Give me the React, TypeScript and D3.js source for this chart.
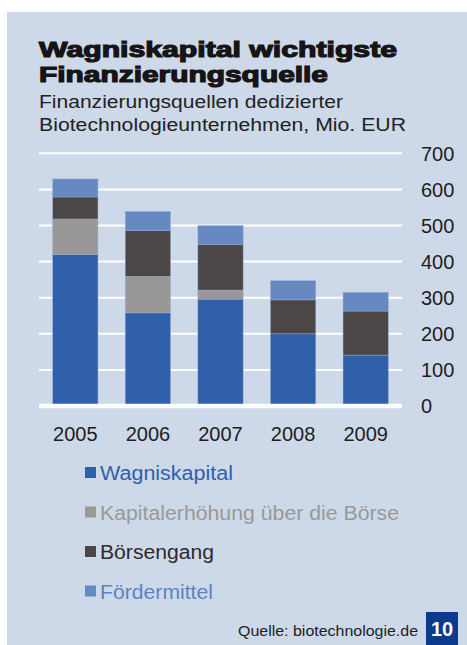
import React, { useEffect, useRef } from 'react'
import * as d3 from 'd3'

// values, Mio. EUR
const years = ['2005', '2006', '2007', '2008', '2009']
const wagniskapital = [420, 258, 296, 200, 141]
const kapitalerhoehung = [98, 101, 25, 0, 0]
const boersengang = [61, 127, 127, 94, 122]
const foerdermittel = [50, 53, 52, 53, 52]
const yTicks = [0, 100, 200, 300, 400, 500, 600, 700]

const SERIES = [
  { key: 'wag', label: 'Wagniskapital', values: wagniskapital, color: '#3160aa', text: '#3160aa', len: 133 },
  { key: 'kap', label: 'Kapitalerhöhung über die Börse', values: kapitalerhoehung, color: '#999896', text: '#9a9996', len: 299 },
  { key: 'boe', label: 'Börsengang', values: boersengang, color: '#4b4746', text: '#2e2b2a', len: 114 },
  { key: 'foe', label: 'Fördermittel', values: foerdermittel, color: '#6689c1', text: '#5f83bf', len: 113 },
]

const BG = '#cdd8e9'
const FONT = '"Liberation Sans", Arial, sans-serif'

export default function App() {
  const svgRef = useRef<SVGSVGElement | null>(null)

  useEffect(() => {
    if (!svgRef.current) return
    const W = 467
    const H = 645
    const svg = d3.select(svgRef.current)
    svg.selectAll('*').remove()
    svg.attr('width', W).attr('height', H)

    // panel
    svg.append('rect').attr('x', 7).attr('y', 12).attr('width', W - 7).attr('height', H - 12).attr('fill', BG)

    // title + subtitle
    const title = [
      { t: 'Wagniskapital wichtigste', y: 57, len: 358 },
      { t: 'Finanzierungsquelle', y: 82, len: 289 },
    ]
    title.forEach(d => {
      svg.append('text')
        .attr('x', 39).attr('y', d.y)
        .attr('font-family', FONT).attr('font-weight', 'bold').attr('font-size', 22.5)
        .attr('fill', '#161414').attr('stroke', '#161414').attr('stroke-width', 1.2)
        .attr('textLength', d.len).attr('lengthAdjust', 'spacingAndGlyphs')
        .text(d.t)
    })
    const sub = [
      { t: 'Finanzierungsquellen dedizierter', y: 107.5, len: 304 },
      { t: 'Biotechnologieunternehmen, Mio. EUR', y: 130.5, len: 367 },
    ]
    sub.forEach(d => {
      svg.append('text')
        .attr('x', 39).attr('y', d.y)
        .attr('font-family', FONT).attr('font-size', 17.5).attr('fill', '#222')
        .attr('textLength', d.len).attr('lengthAdjust', 'spacingAndGlyphs')
        .text(d.t)
    })

    // scales
    const x = d3.scaleBand<string>().domain(years).range([39, 402]).paddingInner(0.376).paddingOuter(0.188)
    const y = d3.scaleLinear().domain([0, 700]).range([406, 153.3])

    const g = svg.append('g')

    // grid
    g.selectAll('.grid')
      .data(yTicks.filter(v => v > 0))
      .join('line').attr('class', 'grid')
      .attr('x1', 39).attr('x2', 402)
      .attr('y1', d => y(d)).attr('y2', d => y(d))
      .attr('stroke', '#ffffff').attr('stroke-width', 2)

    // stacked bars
    const table = years.map((yr, i) => {
      const row: Record<string, any> = { year: yr }
      SERIES.forEach(s => { row[s.key] = s.values[i] })
      return row
    })
    const stacked = d3.stack<any>().keys(SERIES.map(s => s.key))(table)
    stacked.forEach((layer, li) => {
      g.append('g')
        .selectAll('rect')
        .data(layer.filter(d => d[1] - d[0] > 0))
        .join('rect')
        .attr('x', d => x(d.data.year) as number)
        .attr('width', x.bandwidth())
        .attr('y', d => y(d[1]))
        .attr('height', d => y(d[0]) - y(d[1]))
        .attr('fill', SERIES[li].color)
        .attr('stroke', '#9bb2da').attr('stroke-width', 0.6).attr('stroke-opacity', 0.7)
    })

    // baseline on top
    g.append('line')
      .attr('x1', 39).attr('x2', 402).attr('y1', y(0)).attr('y2', y(0))
      .attr('stroke', '#ffffff').attr('stroke-width', 4.5)

    // y labels (right side)
    g.selectAll('.ylab')
      .data(yTicks)
      .join('text').attr('class', 'ylab')
      .attr('x', 421).attr('y', d => y(d)).attr('dy', '0.36em')
      .attr('font-family', FONT).attr('font-size', 20).attr('fill', '#1e1e1e')
      .text(d => d)

    // x labels
    g.selectAll('.xlab')
      .data(years)
      .join('text').attr('class', 'xlab')
      .attr('x', d => (x(d) as number) + x.bandwidth() / 2).attr('y', 441)
      .attr('text-anchor', 'middle')
      .attr('font-family', FONT).attr('font-size', 20).attr('fill', '#1e1e1e')
      .text(d => d)

    // legend
    SERIES.forEach((s, i) => {
      const by = 480 + i * 39.5
      svg.append('rect').attr('x', 85).attr('y', by - 13).attr('width', 11).attr('height', 11).attr('fill', s.color)
      svg.append('text')
        .attr('x', 100).attr('y', by)
        .attr('font-family', FONT).attr('font-size', 19.5).attr('fill', s.text)
        .attr('textLength', s.len).attr('lengthAdjust', 'spacingAndGlyphs')
        .text(s.label)
    })

    // source
    svg.append('text')
      .attr('x', 238).attr('y', 636)
      .attr('font-family', FONT).attr('font-size', 15).attr('fill', '#1e1e1e')
      .attr('textLength', 180).attr('lengthAdjust', 'spacingAndGlyphs')
      .text('Quelle: biotechnologie.de')

    // page number box
    svg.append('rect').attr('x', 426).attr('y', 612).attr('width', 32).attr('height', 33).attr('fill', '#0b3a8f')
    svg.append('text')
      .attr('x', 442).attr('y', 636).attr('text-anchor', 'middle')
      .attr('font-family', FONT).attr('font-weight', 'bold').attr('font-size', 20).attr('fill', '#ffffff')
      .text('10')
  }, [])

  return (
    <div style={{ position: 'absolute', left: 0, top: 0, width: 467, height: 645, background: '#ffffff' }}>
      <svg ref={svgRef} style={{ display: 'block' }} />
    </div>
  )
}
